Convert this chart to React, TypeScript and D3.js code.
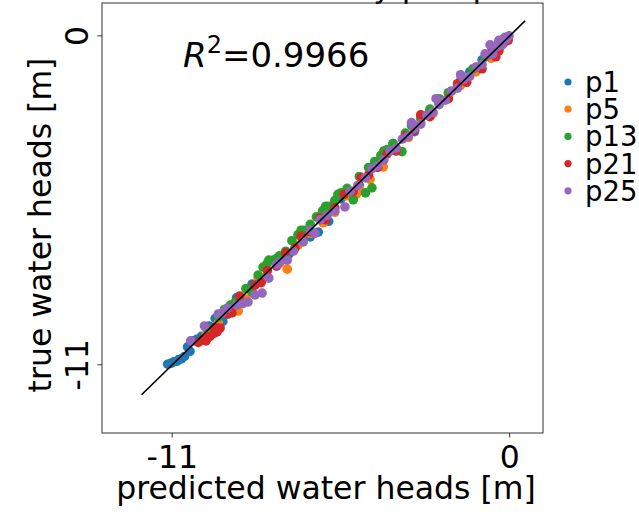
import React from "react";
import * as d3 from "d3";

const seriesNames = ["p1", "p5", "p13", "p21", "p25"];
const seriesColors = ["#1f77b4", "#ff7f0e", "#2ca02c", "#d62728", "#9467bd"];

// [predicted, true]
const p1: [number, number][] = [
  [-11.15, -10.98], [-11.05, -10.95], [-10.95, -10.9], [-10.85, -10.88], [-10.78, -10.82],
  [-10.7, -10.8], [-10.6, -10.72], [-10.42, -10.55], [-10.3, -10.2], [-10.2, -10.15],
  [-10.05, -10.05], [-9.95, -10.1], [-9.6, -9.45], [-9.35, -9.55], [-9.2, -9.3],
  [-8.9, -8.75], [-8.4, -8.3], [-8.0, -8.1], [-7.6, -7.45], [-7.2, -7.3],
  [-6.5, -6.72], [-6.24, -6.56], [-5.9, -6.2], [-5.5, -5.45], [-4.9, -5.0],
  [-4.4, -4.3], [-3.8, -3.6], [-3.1, -3.2], [-2.6, -2.5], [-1.9, -1.85],
  [-1.3, -1.2], [-0.9, -0.8], [-0.5, -0.45], [-0.2, -0.1], [-10.5, -10.4],
  [-9.8, -9.7],
];
const p5: [number, number][] = [
  [-9.9, -10.0], [-9.5, -9.6], [-9.05, -9.25], [-8.85, -9.2], [-8.6, -8.8],
  [-8.2, -8.1], [-7.9, -8.05], [-7.5, -7.6], [-7.25, -7.8], [-6.9, -7.0],
  [-6.5, -6.6], [-6.08, -6.25], [-5.7, -5.9], [-5.3, -5.35], [-4.9, -5.1],
  [-4.55, -4.8], [-4.12, -4.38], [-3.7, -3.75], [-3.3, -3.4], [-2.9, -2.9],
  [-2.5, -2.6], [-2.0, -2.1], [-1.6, -1.65], [-1.1, -1.2], [-0.6, -0.75],
  [-0.3, -0.35], [-0.05, -0.1], [-8.4, -8.6], [-5.0, -5.3], [-0.45, -0.55],
];
const p13: [number, number][] = [
  [-9.9, -9.75], [-9.5, -9.4], [-9.1, -9.0], [-8.95, -8.9], [-8.6, -8.45],
  [-8.4, -8.56], [-8.04, -7.73], [-7.9, -7.6], [-7.7, -7.5], [-7.5, -7.35],
  [-7.3, -7.2], [-7.1, -6.85], [-6.9, -6.65], [-6.7, -6.5], [-6.5, -6.3],
  [-6.3, -6.05], [-6.1, -5.85], [-5.9, -5.7], [-5.7, -5.5], [-5.5, -5.25],
  [-5.3, -5.1], [-5.1, -5.48], [-4.9, -4.7], [-4.7, -5.25], [-4.49, -5.08],
  [-4.4, -4.2], [-4.2, -4.0], [-4.0, -3.8], [-3.8, -3.6], [-3.51, -3.87],
  [-3.4, -3.25], [-3.2, -3.0], [-2.9, -2.75], [-2.6, -2.45], [-2.3, -2.1],
  [-2.0, -1.9], [-1.6, -1.5], [-1.2, -1.1], [-0.8, -0.7], [-0.4, -0.3],
  [-7.85, -7.5], [-6.8, -6.5], [-6.0, -5.7], [-5.6, -5.3], [-4.6, -4.4],
  [-9.3, -9.15], [-8.2, -8.0], [-4.1, -3.85],
];
const p21: [number, number][] = [
  [-10.15, -10.25], [-10.0, -10.17], [-9.85, -10.1], [-9.77, -10.05], [-9.65, -9.95],
  [-9.54, -9.9], [-9.44, -9.77], [-9.2, -9.3], [-9.05, -9.26], [-8.8, -8.7],
  [-8.3, -8.33], [-8.1, -8.25], [-7.9, -7.85], [-7.6, -7.7], [-7.3, -7.25],
  [-7.0, -7.1], [-6.8, -6.7], [-6.5, -6.55], [-6.2, -6.1], [-6.0, -6.15],
  [-5.7, -5.75], [-5.4, -5.3], [-5.1, -5.2], [-4.85, -4.75], [-4.6, -4.65],
  [-4.3, -4.4], [-4.0, -3.95], [-3.7, -3.85], [-3.4, -3.35], [-3.1, -3.15],
  [-2.9, -2.64], [-2.6, -2.7], [-2.3, -2.25], [-2.0, -2.1], [-1.7, -1.6],
  [-1.4, -1.55], [-1.1, -1.05], [-0.9, -1.1], [-0.6, -0.55], [-0.45, -0.7],
  [-0.2, -0.25], [-0.05, -0.15], [-9.9, -10.2], [-9.6, -9.75], [-0.35, -0.5],
];
const p25: [number, number][] = [
  [-10.4, -10.2], [-9.95, -9.7], [-9.5, -9.3], [-9.37, -9.26], [-9.2, -9.1],
  [-8.9, -9.0], [-8.53, -8.9], [-8.3, -8.66], [-8.07, -8.6], [-7.85, -8.1],
  [-7.6, -7.65], [-7.48, -7.56], [-7.25, -7.5], [-7.05, -7.2], [-6.73, -6.89],
  [-6.5, -6.5], [-6.35, -6.6], [-6.18, -6.15], [-5.95, -6.0], [-5.7, -5.85],
  [-5.37, -5.72], [-5.2, -5.2], [-4.95, -5.0], [-4.7, -4.75], [-4.5, -4.45],
  [-4.3, -4.35], [-4.1, -4.15], [-3.9, -3.85], [-3.7, -3.75], [-3.5, -3.45],
  [-3.3, -3.35], [-3.1, -3.1], [-2.9, -2.95], [-2.7, -2.65], [-2.5, -2.55],
  [-2.3, -2.3], [-2.1, -2.15], [-1.9, -1.85], [-1.7, -1.75], [-1.5, -1.45],
  [-1.3, -1.35], [-1.1, -1.05], [-0.9, -0.95], [-0.7, -0.65], [-0.55, -0.6],
  [-0.4, -0.35], [-0.25, -0.3], [-0.1, -0.1], [-0.02, 0.0], [-1.6, -1.3],
  [-2.4, -2.1], [-3.2, -2.9], [-0.64, -0.3], [-8.7, -8.95], [-0.8, -0.6],
  [-0.35, -0.15], [-0.15, -0.05],
];
const seriesData = [p1, p5, p13, p21, p25];

const xTicks = [-11, 0];
const yTicks = [-11, 0];
const xTickLabels = ["-11", "0"];
const yTickLabels = ["-11", "0"];
const identityLine: [number, number][] = [[-12, -12], [0.5, 0.5]];
const r2Text = "0.9966";

const FONT = "DejaVu Sans, sans-serif";

export default function App() {
  const W = 639, H = 512;
  const L = 102, R = 543, T = 3, B = 433;
  const x = d3.scaleLinear().domain([-13.29, 1.087]).range([L, R]);
  const y = d3.scaleLinear().domain([-13.28, 1.10]).range([B, T]);
  const line = d3.line<[number, number]>().x(d => x(d[0])).y(d => y(d[1]));

  return (
    <svg width={W} height={H} style={{ position: "absolute", left: 0, top: 0, background: "#fff" }}
      fontFamily={FONT}>
      <rect x={0} y={0} width={W} height={H} fill="#fff" />
      {/* title, mostly cut off at top */}
      <text x={145} y={-3.5} fontSize={31.5} fill="#000">Water heads by pump</text>

      {seriesData.map((s, i) => (
        <g key={i} fill={seriesColors[i]}>
          {s.map((d, j) => (
            <circle key={j} cx={x(d[0])} cy={y(d[1])} r={4.8} />
          ))}
        </g>
      ))}
      <path d={line(identityLine) || ""} stroke="#000" strokeWidth={1.6} fill="none" />

      <rect x={L} y={T} width={R - L} height={B - T} fill="none" stroke="#333" strokeWidth={1} />

      {xTicks.map((t, i) => (
        <g key={i}>
          <line x1={x(t)} x2={x(t)} y1={B} y2={B + 4.6} stroke="#333" strokeWidth={1} />
          <text x={x(t)} y={468} fontSize={31.5} textAnchor="middle" fill="#000">{xTickLabels[i]}</text>
        </g>
      ))}
      {yTicks.map((t, i) => (
        <g key={i}>
          <line x1={L - 4.6} x2={L} y1={y(t)} y2={y(t)} stroke="#333" strokeWidth={1} />
          <text transform={`translate(88,${y(t)}) rotate(-90)`} fontSize={31.5} textAnchor="middle" fill="#000">
            {yTickLabels[i]}
          </text>
        </g>
      ))}

      <text x={326} y={499} fontSize={31.5} textAnchor="middle" fill="#000">predicted water heads [m]</text>
      <text transform={`translate(51,225) rotate(-90)`} fontSize={31.5} textAnchor="middle" fill="#000">
        true water heads [m]
      </text>

      <text x={183} y={67} fontSize={34} fill="#000">
        <tspan fontStyle="italic">R</tspan>
        <tspan fontSize={24} dy={-14}>2</tspan>
        <tspan dy={14}>={r2Text}</tspan>
      </text>

      {seriesNames.map((n, i) => (
        <g key={n}>
          <circle cx={568} cy={82 + i * 27.2} r={3.6} fill={seriesColors[i]} />
          <text x={585} y={92 + i * 27.2} fontSize={27.5} fill="#000">{n}</text>
        </g>
      ))}
    </svg>
  );
}
